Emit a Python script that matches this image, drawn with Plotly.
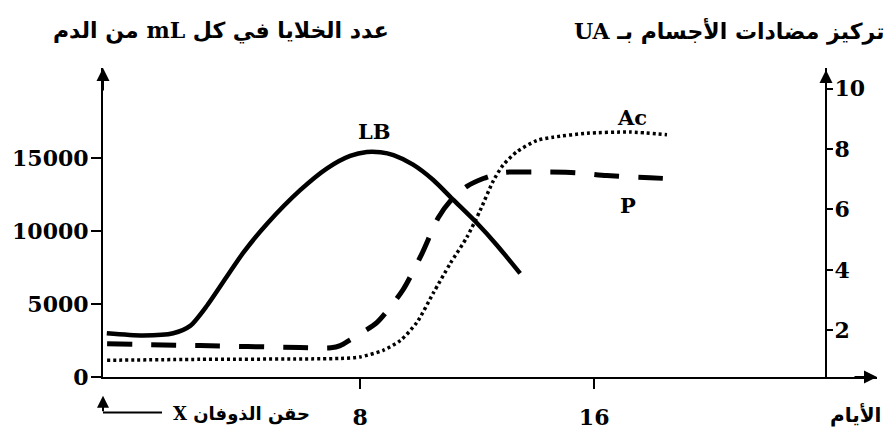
import plotly.graph_objects as go

# ---- data ----
lb_days = [-0.66, 0.58, 1.61, 2.19, 2.77, 3.45, 4.0, 4.82, 5.95, 6.87, 7.66,
           8.23, 8.7, 9.14, 9.81, 10.5, 11.18, 11.99, 12.67, 13.47]
lb_cells = [3000, 2850, 3000, 3500, 4900, 6900, 8500, 10500, 12800, 14300, 15150,
            15420, 15400, 15200, 14550, 13500, 12150, 10550, 9050, 7100]

p_days = [-0.65, 2.53, 5.95, 7.0, 7.32, 7.66, 7.89, 8.57, 9.47, 10.11, 10.67,
          11.08, 11.65, 12.21, 12.89, 13.7, 15.35, 16.43, 17.91, 18.43]
p_cells = [2270, 2150, 2020, 2000, 2150, 2550, 2830, 3720, 5990, 8440, 10910,
           12050, 13060, 13600, 14010, 14050, 14000, 13800, 13650, 13600]

ac_days = [-0.65, 2.53, 7.32, 8.0, 8.79, 9.37, 9.94, 10.5, 11.08, 11.65, 12.1,
           12.55, 12.89, 13.36, 14.04, 14.6, 15.75, 17.23, 18.49]
ac_conc = [1.01, 1.04, 1.07, 1.12, 1.34, 1.66, 2.26, 3.23, 4.21, 5.08, 5.96,
           6.94, 7.47, 7.91, 8.28, 8.39, 8.52, 8.56, 8.47]

x_ticks = [8, 16]
y_ticks = [0, 5000, 10000, 15000]
y2_ticks = [2, 4, 6, 8, 10]

title_left = "عدد الخلايا في كل mL من الدم"
title_right = "تركيز مضادات الأجسام بـ UA"
x_title = "الأيام"
origin_label = "حقن الذوفان X"

# ---- layout geometry ----
W, H = 894, 442
ML, MR, MT, MB = 103, 17, 68, 60
PW = W - ML - MR
PH = H - MT - MB
X_RANGE = [-0.79, 25.67]
Y_RANGE = [0, 21170]
Y2_RANGE = [0.456, 10.68]


def px(xp):
    return (xp - ML) / PW


def py(yp):
    return (H - MB - yp) / PH


def rtl(s):
    # right-to-left embedding so the Arabic line reads in its natural order
    return "\u202b" + s + "\u202c"


NUM = dict(family="DejaVu Serif, Liberation Serif, serif", size=22, color="black", weight="bold")
LBL = dict(family="DejaVu Serif, Liberation Serif, serif", size=21, color="black", weight="bold")


def txt(size):
    return dict(family="DejaVu Serif, DejaVu Sans, sans-serif", size=size, color="black", weight="bold")


fig = go.Figure()
fig.add_trace(go.Scatter(x=lb_days, y=lb_cells, mode="lines", yaxis="y",
                         line=dict(color="black", width=4.5, shape="spline", smoothing=0.7),
                         showlegend=False, hoverinfo="skip"))
fig.add_trace(go.Scatter(x=p_days, y=p_cells, mode="lines", yaxis="y",
                         line=dict(color="black", width=5, dash="25px,19px", shape="spline", smoothing=0.7),
                         showlegend=False, hoverinfo="skip"))
fig.add_trace(go.Scatter(x=ac_days, y=ac_conc, mode="lines", yaxis="y2",
                         line=dict(color="black", width=3.5, dash="3px,3px", shape="spline", smoothing=0.7),
                         showlegend=False, hoverinfo="skip"))

common = dict(showgrid=False, zeroline=False)
fig.update_layout(
    width=W, height=H, autosize=False,
    margin=dict(l=ML, r=MR, t=MT, b=MB, pad=0),
    paper_bgcolor="white", plot_bgcolor="white",
    xaxis=dict(range=X_RANGE, showline=True, linecolor="black", linewidth=2,
               tickvals=x_ticks, ticks="outside", ticklen=10, tickwidth=2, tickcolor="black",
               tickfont=NUM, ticklabelstandoff=10, **common),
    xaxis2=dict(range=X_RANGE, overlaying="x", anchor="y", side="bottom",
                tickvals=x_ticks, ticks="inside", ticklen=8, tickwidth=2, tickcolor="black",
                showticklabels=False, showline=False, **common),
    yaxis=dict(range=Y_RANGE, showline=True, linecolor="black", linewidth=2,
               tickvals=y_ticks, tickformat="d", ticks="outside", ticklen=10, tickwidth=2,
               tickcolor="black", tickfont=NUM, ticklabelstandoff=-2, **common),
    yaxis3=dict(range=Y_RANGE, overlaying="y", anchor="x", side="left",
                tickvals=y_ticks[1:], ticks="inside", ticklen=5, tickwidth=2, tickcolor="black",
                showticklabels=False, showline=False, **common),
    yaxis2=dict(range=Y2_RANGE, overlaying="y", side="right", anchor="free",
                position=px(826), showline=True, linecolor="black", linewidth=2,
                tickvals=y2_ticks, ticks="outside", ticklen=6, tickwidth=2, tickcolor="black",
                tickfont=NUM, ticklabelstandoff=-3, **common),
)

ann = []
# axis arrowheads
for x, y, ax, ay in [(0, 1, 0, 24), (px(826), py(70), 0, 24), (1, 0, -24, 0)]:
    ann.append(dict(x=x, y=y, xref="paper", yref="paper", text="", showarrow=True,
                    ax=ax, ay=ay, arrowhead=2, arrowsize=1.3, arrowwidth=2, arrowcolor="black"))
# origin arrow (injection)
ann.append(dict(x=0, y=py(401), xref="paper", yref="paper", text="", showarrow=True,
                ax=0, ay=17, arrowhead=2, arrowsize=1.2, arrowwidth=2, arrowcolor="black"))
# curve labels
ann.append(dict(x=8.5, y=16790, xref="x", yref="y", text="LB", showarrow=False, font=LBL))
ann.append(dict(x=17.3, y=17800, xref="x", yref="y", text="Ac", showarrow=False, font=LBL))
ann.append(dict(x=17.16, y=11730, xref="x", yref="y", text="P", showarrow=False, font=LBL))
# titles
ann.append(dict(x=px(221), y=py(30), xref="paper", yref="paper", text=rtl(title_left),
                showarrow=False, font=txt(22), xanchor="center", yanchor="middle"))
ann.append(dict(x=px(729), y=py(30), xref="paper", yref="paper", text=rtl(title_right),
                showarrow=False, font=txt(22), xanchor="center", yanchor="middle"))
ann.append(dict(x=px(855), y=py(420), xref="paper", yref="paper", text=rtl(x_title),
                showarrow=False, font=txt(20), xanchor="center", yanchor="middle"))
ann.append(dict(x=px(241), y=py(420), xref="paper", yref="paper", text=rtl(origin_label),
                showarrow=False, font=txt(18), xanchor="center", yanchor="middle"))
fig.update_layout(annotations=ann)

fig.add_shape(type="line", xref="paper", yref="paper", x0=0, x1=px(162), y0=py(418), y1=py(418),
              line=dict(color="black", width=2))

fig.write_html("out.html", config={"displayModeBar": False},
               post_script="document.body.style.margin='0';")
